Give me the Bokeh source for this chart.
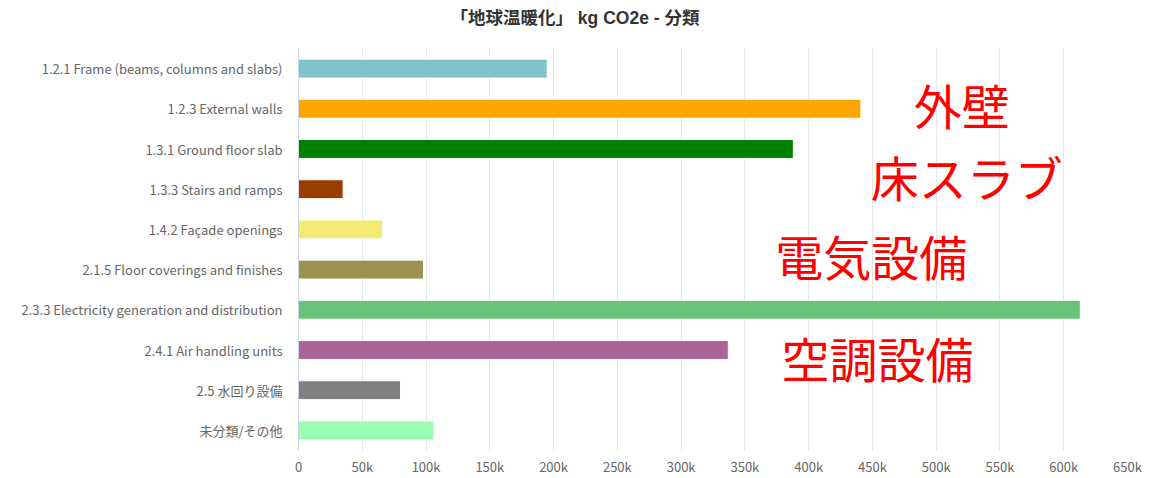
from bokeh.plotting import figure
from bokeh.models import Range1d, FactorRange, FixedTicker, Label, ColumnDataSource, Title
from bokeh.embed import file_html
from bokeh.resources import INLINE

categories = [
    "1.2.1 Frame (beams, columns and slabs)",
    "1.2.3 External walls",
    "1.3.1 Ground floor slab",
    "1.3.3 Stairs and ramps",
    "1.4.2 Façade openings",
    "2.1.5 Floor coverings and finishes",
    "2.3.3 Electricity generation and distribution",
    "2.4.1 Air handling units",
    "2.5 水回り設備",
    "未分類/その他",
]
values = [195000, 441000, 388000, 35000, 66000, 98000, 613000, 337000, 80000, 106000]
colors = ["#7fc4cc", "#ffa500", "#008000", "#993d00", "#f3ea72",
          "#9b9150", "#67c37a", "#aa6495", "#808080", "#97feb2"]

tick_values = [0, 50000, 100000, 150000, 200000, 250000, 300000, 350000,
               400000, 450000, 500000, 550000, 600000, 650000]
tick_labels = ["0", "50k", "100k", "150k", "200k", "250k", "300k", "350k",
               "400k", "450k", "500k", "550k", "600k", "650k"]

title_text = "「地球温暖化」 kg CO2e - 分類"

notes = ["外壁", "床スラブ", "電気設備", "空調設備"]
note_x = [520000, 524000, 449000, 454000]
note_y = [8.62, 6.84, 4.87, 2.33]

src = ColumnDataSource(dict(cat=categories, val=values, color=colors))

p = figure(
    width=1152, height=478,
    y_range=FactorRange(factors=categories[::-1], range_padding=0),
    x_range=Range1d(0, 650000),
    output_backend="svg", toolbar_location=None,
    min_border_left=298, min_border_right=25, min_border_top=0, min_border_bottom=26,
)
p.outline_line_color = None
p.background_fill_color = "white"

p.hbar(y="cat", right="val", left=0, height=0.47, fill_color="color",
       line_color="white", line_width=1, source=src)

# spacer between the frame and the title
p.add_layout(Title(text=" ", text_font_size="10px", standoff=3), "above")
p.add_layout(Title(text=title_text, align="left", offset=152, standoff=10,
                   text_font="Liberation Sans, Noto Sans CJK JP",
                   text_font_size="17.5px", text_font_style="bold",
                   text_color="#333333"), "above")

p.xaxis.ticker = FixedTicker(ticks=tick_values)
p.xaxis.major_label_overrides = {v: l for v, l in zip(tick_values, tick_labels)}
p.xaxis.axis_line_color = None
p.xaxis.major_tick_line_color = None
p.xaxis.minor_tick_line_color = None
p.xaxis.major_tick_out = 0
p.xaxis.major_tick_in = 0
p.xaxis.major_label_text_color = "#666666"
p.xaxis.major_label_text_font = "Noto Sans CJK JP"
p.xaxis.major_label_text_font_size = "13px"
p.xaxis.major_label_standoff = 6

p.yaxis.axis_line_color = "#ccd6eb"
p.yaxis.major_tick_line_color = None
p.yaxis.minor_tick_line_color = None
p.yaxis.major_tick_out = 0
p.yaxis.major_tick_in = 0
p.yaxis.major_label_text_color = "#666666"
p.yaxis.major_label_text_font = "Noto Sans CJK JP"
p.yaxis.major_label_text_font_size = "13px"
p.yaxis.major_label_standoff = 16

p.ygrid.grid_line_color = None
p.xgrid.grid_line_color = "#e6e6e6"
p.xgrid.ticker = FixedTicker(ticks=tick_values)

for t, x, y in zip(notes, note_x, note_y):
    p.add_layout(Label(x=x, y=y, text=t, text_align="center", text_baseline="middle",
                       text_font="Noto Sans CJK JP", text_font_size="48px",
                       text_color="#ff0000"))

open("out.html", "w").write(file_html(p, INLINE))
